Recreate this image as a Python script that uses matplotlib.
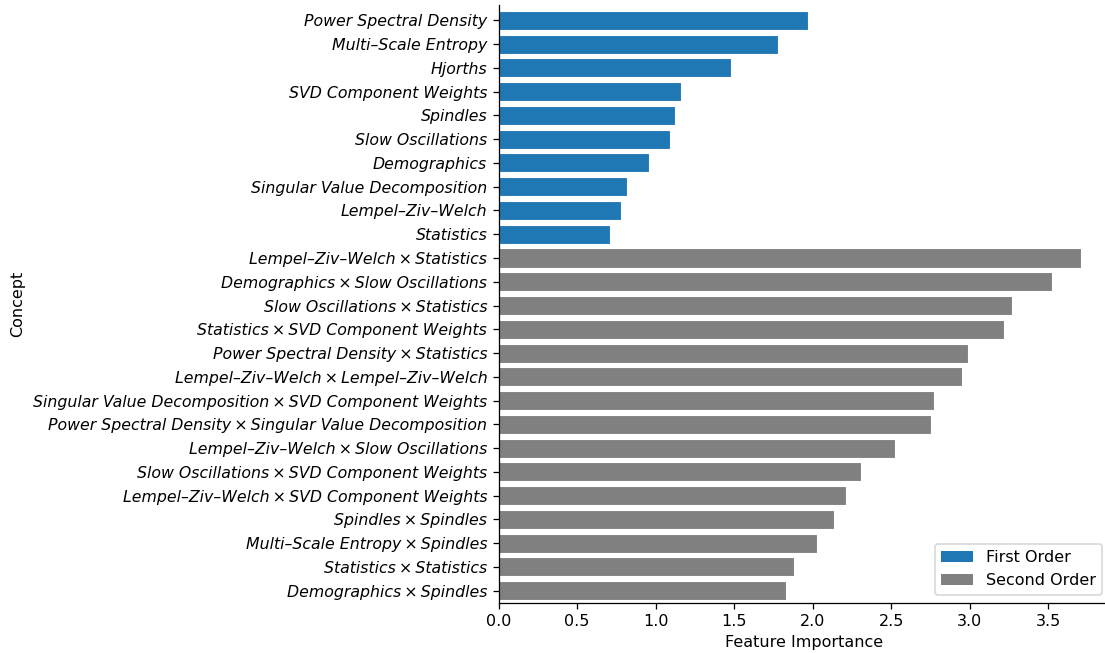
import matplotlib
matplotlib.use("Agg")
import matplotlib.pyplot as plt
from matplotlib.patches import Patch

X = "\u2009×\u2009"
first_labels = ["Power Spectral Density", "Multi–Scale Entropy", "Hjorths",
                "SVD Component Weights", "Spindles", "Slow Oscillations",
                "Demographics", "Singular Value Decomposition", "Lempel–Ziv–Welch",
                "Statistics"]
first_values = [1.97, 1.78, 1.48, 1.16, 1.124, 1.092, 0.959, 0.82, 0.782, 0.708]

second_pairs = [("Lempel–Ziv–Welch", "Statistics"),
                ("Demographics", "Slow Oscillations"),
                ("Slow Oscillations", "Statistics"),
                ("Statistics", "SVD Component Weights"),
                ("Power Spectral Density", "Statistics"),
                ("Lempel–Ziv–Welch", "Lempel–Ziv–Welch"),
                ("Singular Value Decomposition", "SVD Component Weights"),
                ("Power Spectral Density", "Singular Value Decomposition"),
                ("Lempel–Ziv–Welch", "Slow Oscillations"),
                ("Slow Oscillations", "SVD Component Weights"),
                ("Lempel–Ziv–Welch", "SVD Component Weights"),
                ("Spindles", "Spindles"),
                ("Multi–Scale Entropy", "Spindles"),
                ("Statistics", "Statistics"),
                ("Demographics", "Spindles")]
second_values = [3.708, 3.527, 3.271, 3.216, 2.988, 2.954, 2.772, 2.755, 2.523,
                 2.311, 2.215, 2.137, 2.031, 1.884, 1.833]
second_labels = [a + X + b for a, b in second_pairs]

c1 = "#1f77b4"
c2 = "#808080"
FS = 10
DPI = 115

labels = first_labels + second_labels
values = first_values + second_values
colors = [c1] * len(first_values) + [c2] * len(second_values)

fig = plt.figure(figsize=(1105 / DPI, 653 / DPI), dpi=DPI)
ax = fig.add_axes([498.5 / 1105, 0.077, (1110 - 498.5) / 1105, 0.915])
pos = list(range(len(labels)))
ax.barh(pos, values, height=0.8, color=colors, edgecolor="white", linewidth=0.7)
ax.set_yticks(pos)
ax.set_yticklabels(labels, fontstyle="italic", fontsize=9.9)
ax.set_ylim(len(labels) - 0.5 + 0.01, -0.64)
ax.set_xlim(0, max(values) * 1.05)
ax.set_xticks([0, 0.5, 1.0, 1.5, 2.0, 2.5, 3.0, 3.5])
ax.tick_params(axis="x", labelsize=FS)
ax.spines["top"].set_visible(False)
ax.spines["right"].set_visible(False)
ax.set_xlabel("Feature Importance", fontsize=FS)
ax.set_ylabel("Concept", fontsize=FS)
ax.yaxis.set_label_coords(-0.774, 0.5)
handles = [Patch(facecolor=c1, label="First Order"),
           Patch(facecolor=c2, label="Second Order")]
ax.legend(handles=handles, loc="lower right", fontsize=FS)
fig.savefig("out.png", dpi=DPI)
